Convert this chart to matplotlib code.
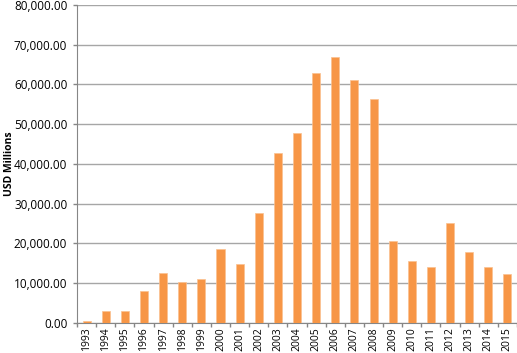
import numpy as np
import matplotlib
matplotlib.use('Agg')
import matplotlib.pyplot as plt
from matplotlib.ticker import FuncFormatter, FixedLocator

plt.rcParams['font.family'] = ['Open Sans', 'DejaVu Sans']

years = [str(y) for y in range(1993, 2016)]
values = [500, 2900, 2900, 8100, 12500, 10250, 11100, 18500, 14850, 27600,
          42850, 47900, 63000, 66900, 61200, 56300, 20600, 15500, 14000,
          25250, 17800, 14100, 12250]

fig = plt.figure(figsize=(5.17, 3.53), dpi=100)
ax = fig.add_axes([0.149, 0.085, 0.851, 0.901])

x = np.arange(len(years))
ax.bar(x, values, width=0.42, color='#F79646', edgecolor='#FAC090', linewidth=0.5, zorder=3)

ax.set_xlim(-0.5, len(years) - 0.5)
ax.set_ylim(0, 80000)
ax.set_yticks(np.arange(0, 80001, 10000))
ax.yaxis.set_major_formatter(FuncFormatter(lambda v, p: f'{v:,.2f}'))
ax.grid(axis='y', color='#A6A6A6', linewidth=1.0, zorder=0)

ax.set_xticks(x)
ax.set_xticklabels(years, rotation=90, fontsize=7.5)
ax.tick_params(axis='x', which='major', length=0, pad=3)
ax.xaxis.set_minor_locator(FixedLocator(np.arange(-0.5, len(years), 1)))
ax.tick_params(axis='x', which='minor', length=3, color='#868686', width=1)
ax.tick_params(axis='y', length=3, color='#868686', width=1, labelsize=8.5, pad=4)

for s in ['top', 'right']:
    ax.spines[s].set_visible(False)
for s in ['left', 'bottom']:
    ax.spines[s].set_color('#868686')

ax.set_ylabel('USD Millions', fontsize=7.5, fontweight='bold')
ax.yaxis.set_label_coords(-0.14, 0.5)

fig.savefig('out.png', dpi=100)
